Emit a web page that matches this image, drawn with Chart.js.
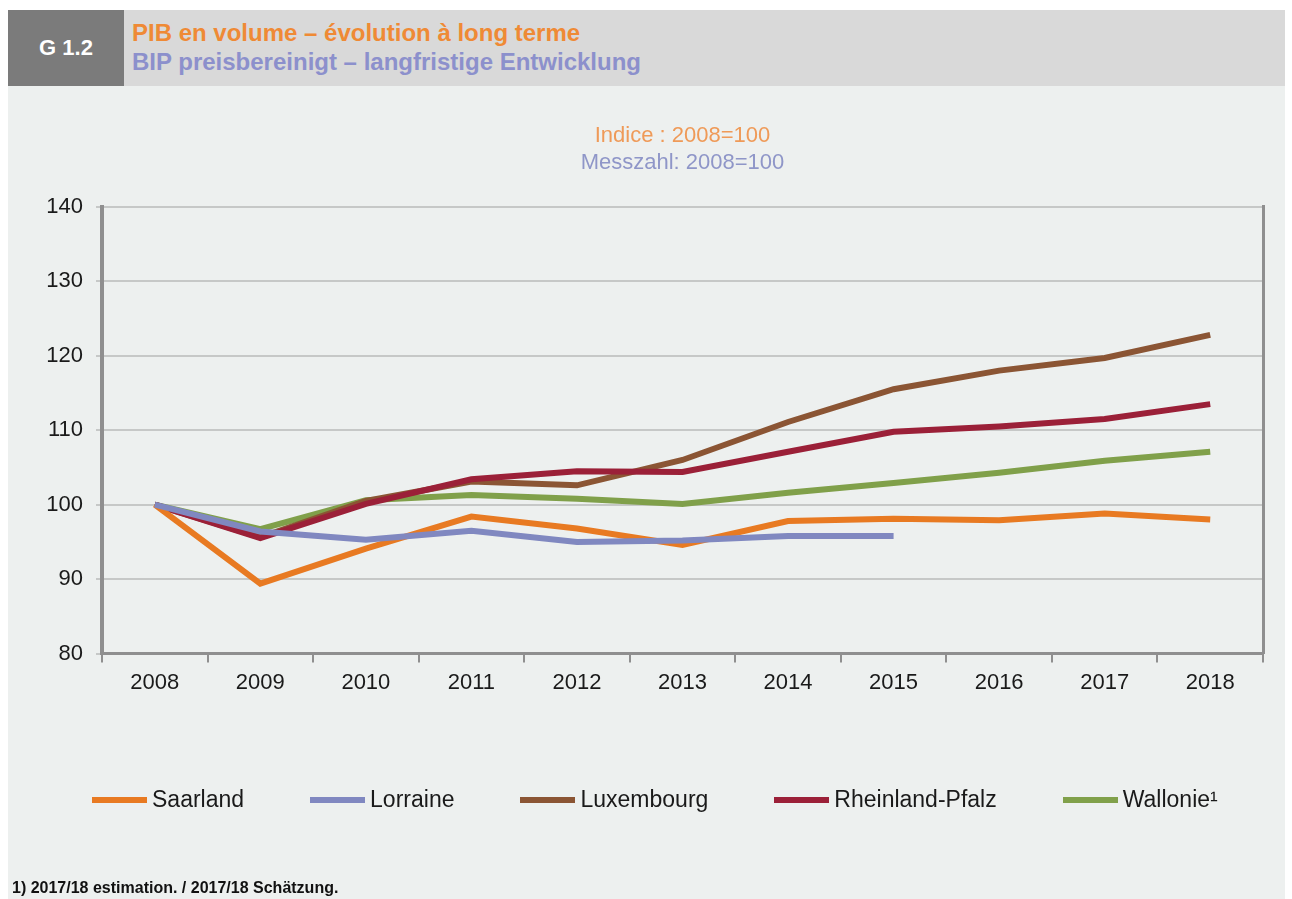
<!DOCTYPE html>
<html>
<head>
<meta charset="utf-8">
<script src="https://cdn.jsdelivr.net/npm/chart.js@4.4.1/dist/chart.umd.min.js"></script>
<style>
    body { margin: 0; background: #fff; width: 1292px; height: 899px; position: relative; overflow: hidden; font-family: 'Liberation Sans', Arial, sans-serif; }
    .panel { position: absolute; left: 8px; top: 10px; width: 1277px; height: 889px; background: #edf0ef; }
    .header { position: absolute; left: 0; top: 0; width: 1277px; height: 76px; background: #d9d9d9; }
    .header .code { position: absolute; left: 0; top: 0; width: 116px; height: 76px; background: #7b7b7b; color: #fff; font-weight: bold; font-size: 22px; line-height: 76px; text-align: center; }
    .header .t1, .header .t2 { position: absolute; left: 124px; font-weight: bold; font-size: 24px; line-height: 28px; white-space: nowrap; }
    .header .t1 { top: 9px; color: #ef8a35; }
    .header .t2 { top: 38px; color: #8c90cc; }
    #chart { position: absolute; left: 0; top: 0; }
    .legend { position: absolute; left: 92px; top: 786px; display: flex; gap: 66px; font-size: 23px; color: #1a1a1a; }
    .legend .item { display: flex; align-items: center; }
    .legend .swatch { width: 55px; height: 6px; margin-right: 5px; }
    .note { position: absolute; left: 12px; top: 879px; font-size: 16px; line-height: 18px; font-weight: bold; color: #111; }
</style>
</head>
<body>
<div class="panel">
    <div class="header">
        <div class="code">G 1.2</div>
        <div class="t1">PIB en volume – évolution à long terme</div>
        <div class="t2">BIP preisbereinigt – langfristige Entwicklung</div>
    </div>
</div>
<canvas id="chart" width="1292" height="899"></canvas>
<div class="legend" id="legend"></div>
<div class="note">1) 2017/18 estimation. / 2017/18 Schätzung.</div>

<script>
const years = ['2008', '2009', '2010', '2011', '2012', '2013', '2014', '2015', '2016', '2017', '2018'];

const saarland = [100, 89.4, 94.1, 98.4, 96.8, 94.6, 97.8, 98.1, 97.9, 98.8, 98.0];
const lorraine = [100, 96.4, 95.3, 96.5, 95.0, 95.2, 95.8, 95.8, null, null, null];
const luxembourg = [100, 95.6, 100.5, 103.1, 102.6, 106.0, 111.1, 115.5, 118.0, 119.7, 122.8];
const rheinlandPfalz = [100, 95.5, 100.1, 103.4, 104.5, 104.4, 107.1, 109.8, 110.5, 111.5, 113.5];
const wallonie = [100, 96.7, 100.6, 101.3, 100.8, 100.1, 101.6, 102.9, 104.3, 105.9, 107.1];

const seriesNames = ['Saarland', 'Lorraine', 'Luxembourg', 'Rheinland-Pfalz', 'Wallonie¹'];
const seriesColors = ['#e87a22', '#8088c0', '#8b5534', '#9b2038', '#80a04a'];
const seriesData = [saarland, lorraine, luxembourg, rheinlandPfalz, wallonie];

const yTicks = [80, 90, 100, 110, 120, 130, 140];

const FONT = "'Liberation Sans', Arial, sans-serif";
const AXIS_GREY = '#8f8f8f';

// draw order: last drawn on top, so orange/blue first like the original
const datasets = seriesNames.map((name, i) => ({
    label: name,
    data: seriesData[i],
    borderColor: seriesColors[i],
    backgroundColor: seriesColors[i],
    borderWidth: 6,
    pointRadius: 0,
    tension: 0,
    spanGaps: false,
    order: [1, 0, 3, 2, 4][i]
}));

const chart = new Chart(document.getElementById('chart'), {
    type: 'line',
    data: { labels: years, datasets },
    options: {
        responsive: false,
        animation: false,
        layout: { padding: { top: 100, right: 29, bottom: 196, left: 0 } },
        plugins: {
            legend: { display: false },
            tooltip: { enabled: false },
            title: {
                display: true,
                fullSize: false,
                text: 'Indice : 2008=100',
                color: '#ef9a58',
                font: { family: FONT, size: 22, weight: 'normal' },
                padding: { top: 23, bottom: 0 }
            },
            subtitle: {
                display: true,
                fullSize: false,
                text: 'Messzahl: 2008=100',
                color: '#8f96c8',
                font: { family: FONT, size: 22, weight: 'normal' },
                padding: { top: 0, bottom: 31 }
            }
        },
        scales: {
            x: {
                offset: true,
                grid: {
                    offset: true,
                    drawOnChartArea: false,
                    tickLength: 9,
                    color: AXIS_GREY,
                    lineWidth: 2
                },
                border: { color: AXIS_GREY, width: 3 },
                ticks: {
                    color: '#1a1a1a',
                    font: { family: FONT, size: 22 },
                    padding: 7,
                    maxRotation: 0
                }
            },
            y: {
                min: 80,
                max: 140,
                afterFit: (axis) => { axis.width = 102; },
                afterBuildTicks: (axis) => { axis.ticks = yTicks.map(v => ({ value: v })); },
                grid: { color: '#c6c8c7', lineWidth: 2, tickLength: 6 },
                border: { color: AXIS_GREY, width: 4 },
                ticks: {
                    color: '#1a1a1a',
                    font: { family: FONT, size: 22 },
                    padding: 13
                }
            },
            y2: {
                position: 'right',
                min: 80,
                max: 140,
                afterFit: (axis) => { axis.width = 0; },
                grid: { drawOnChartArea: false, drawTicks: false },
                border: { color: AXIS_GREY, width: 3 },
                ticks: { display: false }
            }
        }
    }
});

// legend built from the chart datasets, in the original order
const legendEl = document.getElementById('legend');
legendEl.innerHTML = chart.data.datasets.map(ds => `
    <div class="item">
        <span class="swatch" style="background: ${ds.borderColor}"></span>
        <span>${ds.label}</span>
    </div>
`).join('');
</script>
</body>
</html>
